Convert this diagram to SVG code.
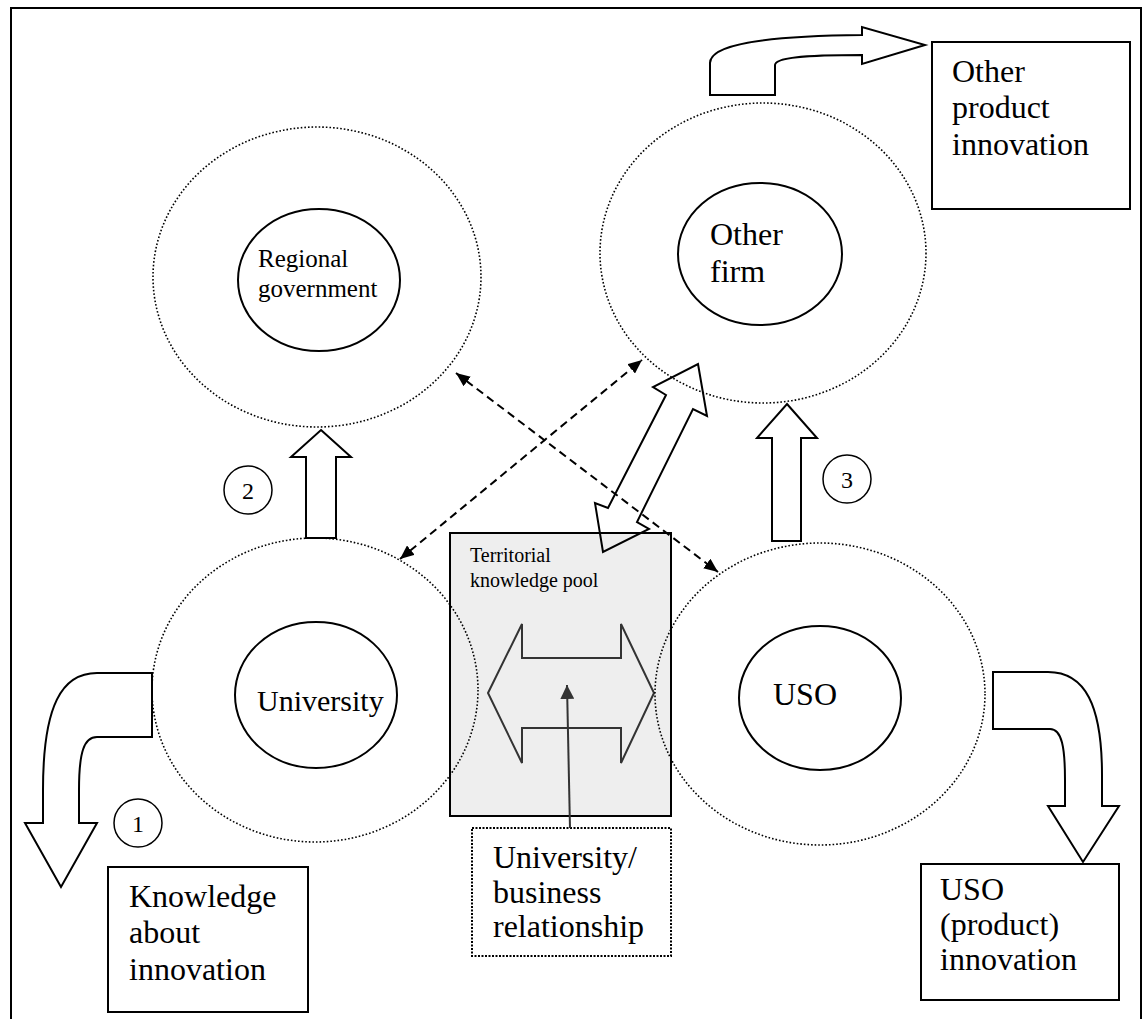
<svg xmlns="http://www.w3.org/2000/svg" width="1144" height="1019" viewBox="0 0 1144 1019">
<style>
.txt{font-family:"Liberation Serif","Times New Roman",serif;fill:#000}
.outer{fill:none;stroke:#000;stroke-width:1.6;stroke-dasharray:1.6 2}
.inner{fill:#fff;stroke:#000;stroke-width:2}
.box{fill:#fff;stroke:#000;stroke-width:2}
.blk{fill:none;stroke:#000;stroke-width:2;stroke-linejoin:miter}
.dash{fill:none;stroke:#000;stroke-width:2;stroke-dasharray:8 5}
.num{fill:#fff;stroke:#000;stroke-width:1.5}
</style>
<defs>
<marker id="ah" viewBox="0 0 14 12" refX="14" refY="6" markerWidth="14" markerHeight="12" markerUnits="userSpaceOnUse" orient="auto-start-reverse">
<path d="M0,0 L14,6 L0,12 Z" fill="#000"/>
</marker>
<marker id="ah2" viewBox="0 0 14 14" refX="14" refY="7" markerWidth="14" markerHeight="14" markerUnits="userSpaceOnUse" orient="auto">
<path d="M0,0 L14,7 L0,14 Z" fill="#333"/>
</marker>
</defs>
<rect x="0" y="0" width="1144" height="1019" fill="#fff"/>
<rect id="frame" x="11" y="8" width="1130" height="1030" fill="none" stroke="#000" stroke-width="2"/>

<g id="pool">
<rect x="450" y="533" width="221" height="283" fill="#eeeeee" stroke="#000" stroke-width="2"/>
<text class="txt" font-size="20"><tspan x="470" y="562">Territorial</tspan><tspan x="470" y="587">knowledge pool</tspan></text>
<polygon points="488,693 522,624 522,658 621,658 621,624 654,693 621,763 621,728 522,728 522,763" fill="none" stroke="#333" stroke-width="2"/>
</g>

<g id="regional">
<ellipse class="outer" cx="317" cy="277" rx="164" ry="150"/>
<ellipse class="inner" cx="319" cy="280" rx="81" ry="71"/>
<text class="txt" font-size="25"><tspan x="258" y="267">Regional</tspan><tspan x="258" y="297">government</tspan></text>
</g>

<g id="otherfirm">
<ellipse class="outer" cx="763" cy="253" rx="163" ry="150"/>
<ellipse class="inner" cx="760" cy="254" rx="82" ry="71"/>
<text class="txt" font-size="32"><tspan x="710" y="245">Other</tspan><tspan x="710" y="282">firm</tspan></text>
</g>

<g id="university">
<ellipse class="outer" cx="315" cy="690" rx="163" ry="152"/>
<ellipse class="inner" cx="316" cy="695" rx="81" ry="73"/>
<text class="txt" font-size="30" x="257" y="711">University</text>
</g>

<g id="uso">
<ellipse class="outer" cx="820" cy="694" rx="165" ry="151"/>
<ellipse class="inner" cx="820" cy="698" rx="81" ry="72"/>
<text class="txt" font-size="32" x="773" y="705">USO</text>
</g>

<g id="pool-overlay">
<rect x="450" y="533" width="221" height="283" fill="none" stroke="#000" stroke-width="2"/>
</g>

<g id="knowledge-box">
<rect class="box" x="108" y="867" width="200" height="145"/>
<text class="txt" font-size="32"><tspan x="129" y="907">Knowledge</tspan><tspan x="129" y="943">about</tspan><tspan x="129" y="980">innovation</tspan></text>
</g>

<g id="other-product-box">
<rect class="box" x="932" y="42" width="198" height="167"/>
<text class="txt" font-size="32"><tspan x="952" y="82">Other</tspan><tspan x="952" y="118">product</tspan><tspan x="952" y="155">innovation</tspan></text>
</g>

<g id="uso-product-box">
<rect class="box" x="921" y="864" width="198" height="136"/>
<text class="txt" font-size="32"><tspan x="940" y="900">USO</tspan><tspan x="940" y="935">(product)</tspan><tspan x="940" y="970">innovation</tspan></text>
</g>

<g id="relationship-box">
<rect x="472" y="828" width="199" height="128" fill="#fff" stroke="#000" stroke-width="2" stroke-dasharray="2 1.5"/>
<text class="txt" font-size="32"><tspan x="493" y="868">University/</tspan><tspan x="493" y="903">business</tspan><tspan x="493" y="937">relationship</tspan></text>
</g>

<g id="num1"><circle class="num" cx="138" cy="823" r="24"/><text class="txt" font-size="24" x="138" y="832" text-anchor="middle">1</text></g>
<g id="num2"><circle class="num" cx="248" cy="490" r="24"/><text class="txt" font-size="24" x="248" y="499" text-anchor="middle">2</text></g>
<g id="num3"><circle class="num" cx="847" cy="479" r="24"/><text class="txt" font-size="24" x="847" y="488" text-anchor="middle">3</text></g>

<g id="connectors">
<line class="dash" x1="456" y1="373" x2="718" y2="572" marker-start="url(#ah)" marker-end="url(#ah)"/>
<line class="dash" x1="400" y1="559" x2="642" y2="360" marker-start="url(#ah)" marker-end="url(#ah)"/>
<line x1="570" y1="828" x2="567" y2="685" stroke="#333" stroke-width="2" marker-end="url(#ah2)"/>
<polygon class="blk" points="321,430 351,457 336,457 336,538 306,538 306,457 291,457"/>
<polygon class="blk" points="787,404 817,438 801,438 801,541 772,541 772,438 757,438"/>
<polygon class="blk" points="698,364 707,416 693,409 637,522 649,529 603,552 595,503 608,508 666,395 653,387"/>
<path class="blk" d="M152,673 L97,673 C62,673 43,705 43,790 L43,823 L25,823 L61,887 L97,823 L79,823 L79,790 C79,752 84,737 97,737 L152,737 Z"/>
<path class="blk" d="M993,672 L1048,672 C1085,672 1102,705 1102,775 L1102,806 L1119,806 L1083,862 L1048,806 L1065,806 L1065,780 C1065,748 1062,729 1050,729 L993,729 Z"/>
<path class="blk" d="M710,95 L710,63 C710,45 760,36 862,35 L862,27 L925,45 L862,64 L862,55 C800,55 775,58 775,65 L775,95 Z"/>
</g>
</svg>
